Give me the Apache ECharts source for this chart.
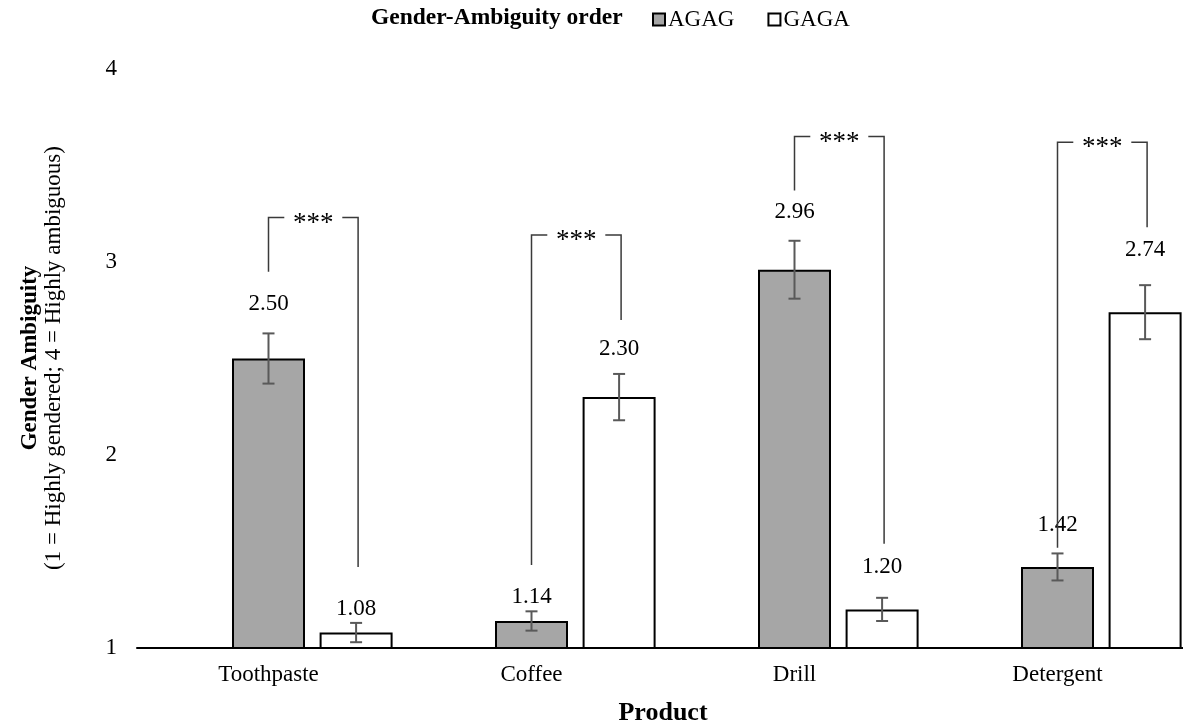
<!DOCTYPE html>
<html><head><meta charset="utf-8">
<script src="https://cdn.jsdelivr.net/npm/echarts@6/dist/echarts.min.js"></script>
<style>html,body{margin:0;padding:0;background:#fff}#c{width:1183px;height:725px}</style>
</head><body><div id="c"></div>
<script>
const categories = ['Toothpaste', 'Coffee', 'Drill', 'Detergent'];
const agag = [2.50, 1.14, 2.96, 1.42];
const gaga = [1.08, 2.30, 1.20, 2.74];
const agagErr = [0.13, 0.05, 0.15, 0.07];
const gagaErr = [0.05, 0.12, 0.06, 0.14];
const yTicks = ['1', '2', '3', '4'];
const seriesNames = ['AGAG', 'GAGA'];
const legendTitle = 'Gender-Ambiguity order';
const yTitleMain = 'Gender Ambiguity';
const yTitleSub = '(1 = Highly gendered; 4 = Highly ambiguous)';
const xTitle = 'Product';
// significance brackets (data units)
const bracketTop = [3.23, 3.14, 3.65, 3.62];
const bracketLeftEnd = [2.95, 1.43, 3.37, 1.52];
const bracketRightEnd = [1.42, 2.70, 1.54, 3.18];
const sigLabels = ['***', '***', '***', '***'];

// styling / layout (not data)
const FONT = '"Liberation Serif","Times New Roman",serif';
const FS = 23;
const BAR_W = 73, BAR_GAP = 0.2;
const agagLabelGap = [29, 14, 29, 28];
const gagaLabelGap = [14, 25, 31, 35];

const errData = [];
categories.forEach((c, i) => {
  errData.push([i, agag[i], agagErr[i], 0, agagLabelGap[i]]);
  errData.push([i, gaga[i], gagaErr[i], 1, gagaLabelGap[i]]);
});
const bracketData = categories.map((c, i) => [i, bracketLeftEnd[i], bracketRightEnd[i], bracketTop[i]]);

const chart = echarts.init(document.getElementById('c'), null, {renderer: 'canvas'});
const ERR_COLOR = '#595959';
chart.setOption({
  animation: false,
  backgroundColor: '#fff',
  textStyle: {fontFamily: FONT},
  title: {
    text: legendTitle,
    left: 366, top: 1,
    textStyle: {fontFamily: FONT, fontSize: 23.5, fontWeight: 'bold', color: '#000'}
  },
  legend: {
    data: seriesNames,
    left: 647, top: 3,
    icon: 'rect', itemWidth: 12, itemHeight: 12, itemGap: 33,
    textStyle: {fontFamily: FONT, fontSize: FS, color: '#000', padding: [0, 0, 0, -2]}
  },
  graphic: [
    {type: 'text', x: 30, y: 358, rotation: Math.PI / 2,
      style: {text: yTitleMain, font: 'bold ' + FS + 'px ' + FONT, fill: '#000', align: 'center', verticalAlign: 'middle'}},
    {type: 'text', x: 54, y: 358, rotation: Math.PI / 2,
      style: {text: yTitleSub, font: FS + 'px ' + FONT, fill: '#000', align: 'center', verticalAlign: 'middle'}}
  ],
  grid: {left: 137, top: 69, width: 1052, height: 579, containLabel: false, outerBoundsMode: 'none'},
  xAxis: {
    type: 'category',
    data: categories,
    axisLine: {lineStyle: {color: '#000', width: 2}},
    axisTick: {show: false},
    axisLabel: {fontFamily: FONT, fontSize: FS, color: '#000', margin: 15},
    name: xTitle,
    nameLocation: 'middle',
    nameGap: 52,
    nameTextStyle: {fontFamily: FONT, fontSize: 26, fontWeight: 'bold', color: '#000'}
  },
  yAxis: {
    type: 'value',
    min: 1, max: 4, interval: 1,
    axisLine: {show: false},
    axisTick: {show: false},
    splitLine: {show: false},
    axisLabel: {fontFamily: FONT, fontSize: FS, color: '#000', margin: 20,
      formatter: v => yTicks[v - 1]}
  },
  series: [
    {name: 'spacer', type: 'bar', data: categories.map(() => null), barWidth: BAR_W, barGap: (BAR_GAP * 100) + '%', silent: true},
    {name: 'AGAG', type: 'bar', data: agag, barWidth: BAR_W, barGap: (BAR_GAP * 100) + '%',
      itemStyle: {color: '#a6a6a6', borderColor: '#000', borderWidth: 2}},
    {name: 'GAGA', type: 'bar', data: gaga, barWidth: BAR_W, barGap: (BAR_GAP * 100) + '%',
      itemStyle: {color: '#ffffff', borderColor: '#000', borderWidth: 2}},
    {
      name: 'errors', type: 'custom', data: errData, encode: {x: 0, y: 1}, z: 5, silent: true,
      renderItem: function (params, api) {
        const c = api.value(0), v = api.value(1), e = api.value(2), s = api.value(3), gap = api.value(4);
        const dx = s === 0 ? 0 : BAR_W * (1 + BAR_GAP);
        const top = api.coord([c, v + e]);
        const bot = api.coord([c, v - e]);
        const x = top[0] + dx;
        const cap = 6;
        const ls = {stroke: ERR_COLOR, lineWidth: 2};
        return {type: 'group', children: [
          {type: 'line', shape: {x1: x, y1: top[1], x2: x, y2: bot[1]}, style: ls},
          {type: 'line', shape: {x1: x - cap, y1: top[1], x2: x + cap, y2: top[1]}, style: ls},
          {type: 'line', shape: {x1: x - cap, y1: bot[1], x2: x + cap, y2: bot[1]}, style: ls},
          {type: 'text', x: x, y: top[1] - gap, style: {text: v.toFixed(2), fill: '#000',
            font: FS + 'px ' + FONT, align: 'center', verticalAlign: 'middle'}}
        ]};
      }
    },
    {
      name: 'brackets', type: 'custom', data: bracketData, encode: {x: 0, y: 3}, z: 6, silent: true,
      renderItem: function (params, api) {
        const c = api.value(0), le = api.value(1), re = api.value(2), t = api.value(3);
        const pTop = api.coord([c, t]);
        const xL = pTop[0];
        const xR = xL + BAR_W * (1 + BAR_GAP) + 2;
        const yT = pTop[1];
        const yL = api.coord([c, le])[1];
        const yR = api.coord([c, re])[1];
        const mid = (xL + xR) / 2;
        const half = 29;
        const ls = {stroke: '#3a3a3a', lineWidth: 1.5, fill: null};
        return {type: 'group', children: [
          {type: 'polyline', shape: {points: [[xL, yL], [xL, yT], [mid - half, yT]]}, style: ls},
          {type: 'polyline', shape: {points: [[mid + half, yT], [xR, yT], [xR, yR]]}, style: ls},
          {type: 'text', x: mid, y: yT + 6, style: {text: sigLabels[c], fill: '#000',
            font: '27px ' + FONT, align: 'center', verticalAlign: 'middle'}}
        ]};
      }
    }
  ]
});
</script>
</body></html>
